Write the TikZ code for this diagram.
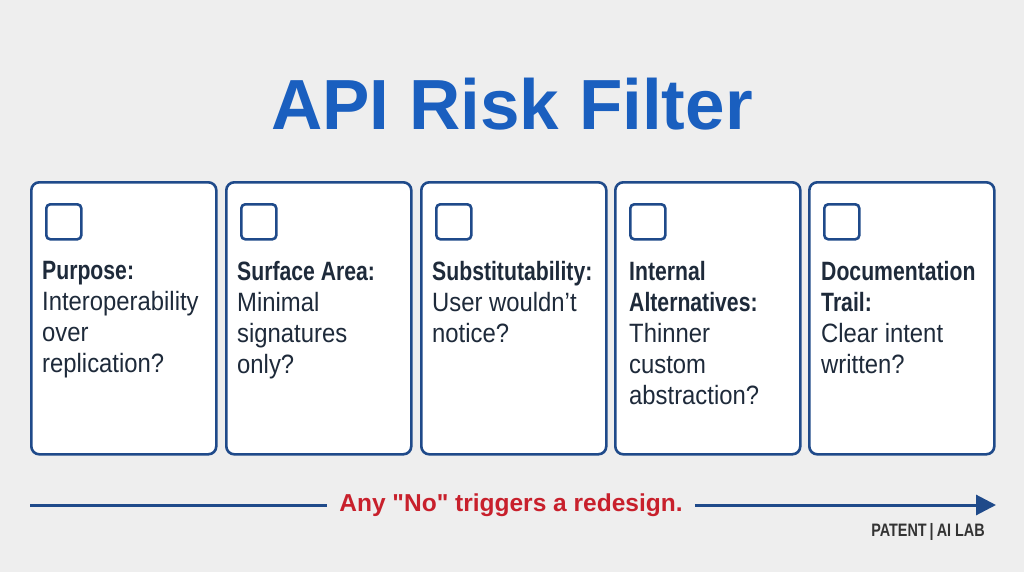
\documentclass[tikz,border=0pt]{standalone}
\usepackage{fontspec}
\setmainfont{Liberation Sans}[FakeStretch=0.9,BoldFeatures={FakeStretch=0.8}]
\newfontfamily\widefont{Liberation Sans}
\usetikzlibrary{arrows.meta}
\definecolor{bg}{HTML}{EEEEEE}
\definecolor{navy}{HTML}{1F4A8A}
\definecolor{titleblue}{HTML}{1A5FBF}
\definecolor{txt}{HTML}{1E2A3A}
\definecolor{redt}{HTML}{C8202C}
\tikzset{x=1pt,y=-1pt,
 card/.style={draw=navy,line width=2.6pt,rounded corners=8pt,fill=white,minimum width=185pt,minimum height=272pt,anchor=north west},
 box/.style={draw=navy,line width=2.6pt,rounded corners=4pt,minimum width=35pt,minimum height=35pt,anchor=north west},
 ctext/.style={anchor=north west,align=left,text=txt,font=\fontsize{26.5}{31}\selectfont,inner sep=0pt}}
\begin{document}
\begin{tikzpicture}
\useasboundingbox[fill=bg] (0,0) rectangle (1024,572);
\node[text=titleblue,font=\widefont\fontsize{71}{74}\bfseries\selectfont] (title) at (512,104) {API Risk Filter};
\node[card] (c1) at (30,181) {};
\node[card] (c2) at (225,181) {};
\node[card] (c3) at (420,181) {};
\node[card] (c4) at (614,181) {};
\node[card] (c5) at (808,181) {};
\node[box] (b1) at (45,203) {};
\node[box] (b2) at (240,203) {};
\node[box] (b3) at (435,203) {};
\node[box] (b4) at (629,203) {};
\node[box] (b5) at (823,203) {};
\node[ctext] (t1) at (42,261) {\textbf{Purpose:}\\Interoperability\\over\\replication?};
\node[ctext] (t2) at (237,261) {\textbf{Surface Area:}\\Minimal\\signatures\\only?};
\node[ctext] (t3) at (432,261) {\textbf{Substitutability:}\\User wouldn\symbol{39}t\\notice?};
\node[ctext] (t4) at (629,261) {\textbf{Internal}\\\textbf{Alternatives:}\\Thinner\\custom\\abstraction?};
\node[ctext] (t5) at (821,261) {\textbf{Documentation}\\\textbf{Trail:}\\Clear intent\\written?};
\node[text=redt,inner xsep=12pt,font=\widefont\fontsize{24.5}{28}\bfseries\selectfont] (note) at (511,505) {Any \symbol{34}No\symbol{34} triggers a redesign.};
\coordinate (l0) at (30,505);
\coordinate (r1) at (996,505);
\draw[navy,line width=3pt] (l0) -- (note.west);
\draw[navy,line width=3pt,-{Triangle[length=20pt,width=20pt]}] (note.east) -- (r1);
\node[text=black!80,font=\fontsize{18}{20}\bfseries\selectfont] (logo) at (928,532) {PATENT\,|\,AI LAB};
\end{tikzpicture}
\end{document}
